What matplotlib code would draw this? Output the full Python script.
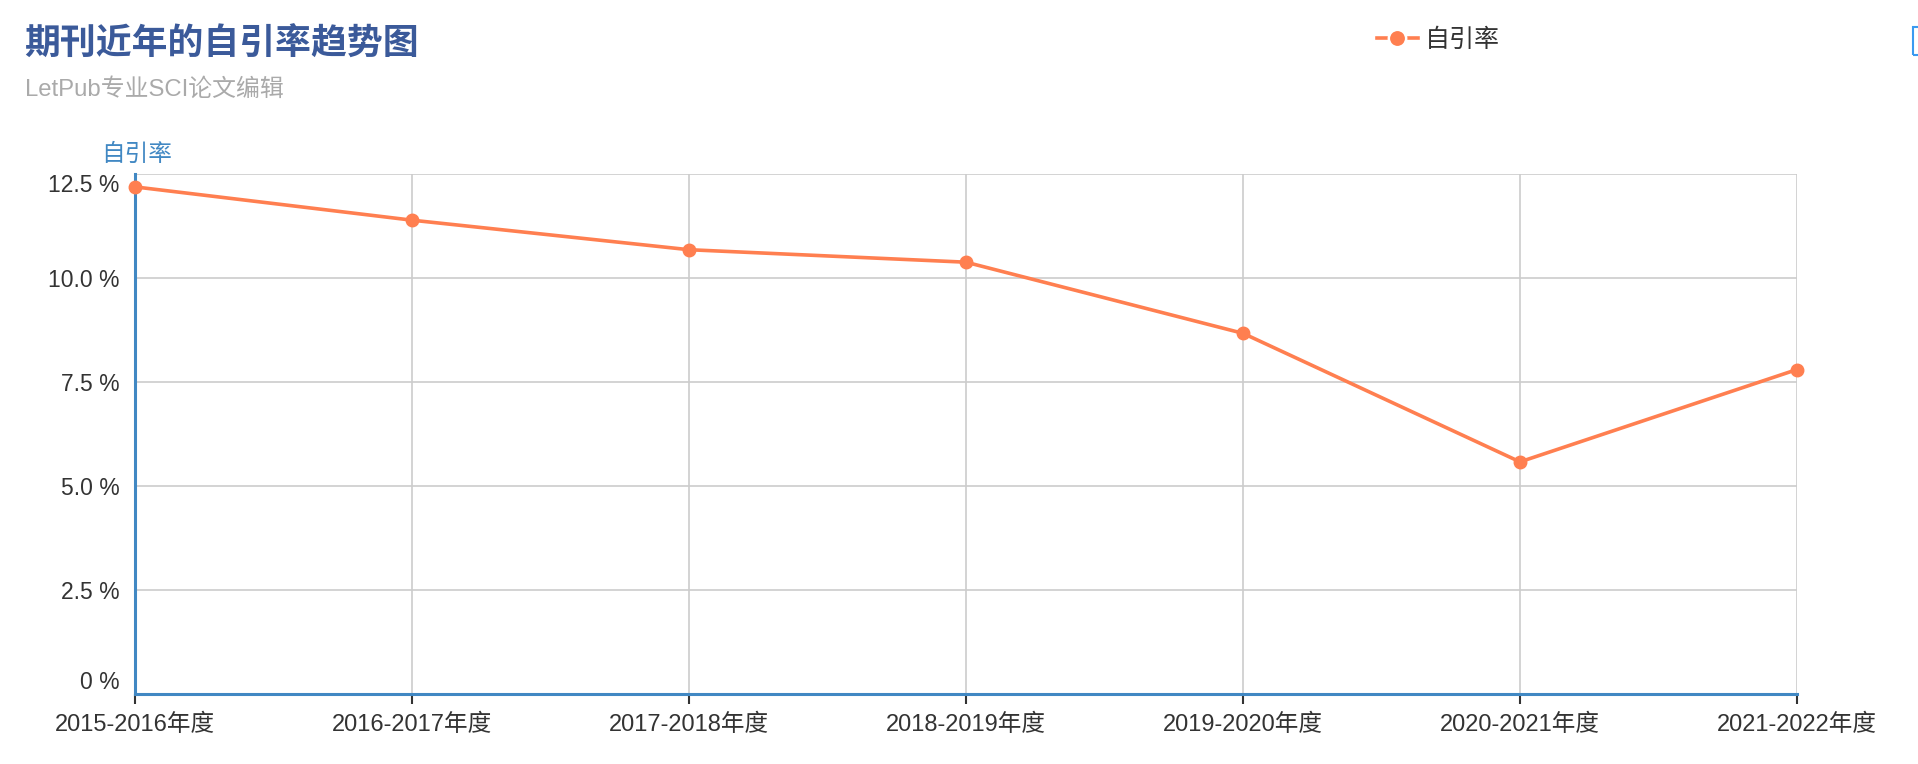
import matplotlib.pyplot as plt
from matplotlib.patches import Rectangle

plt.rcParams['font.family'] = ['Liberation Sans', 'Noto Sans CJK SC', 'DejaVu Sans']

# 数据
years = ['2015-2016年度', '2016-2017年度', '2017-2018年度', '2018-2019年度',
         '2019-2020年度', '2020-2021年度', '2021-2022年度']
self_cite = [12.19, 11.39, 10.68, 10.38, 8.67, 5.58, 7.80]
y_ticks = [0, 2.5, 5.0, 7.5, 10.0, 12.5]
y_labels = ['0 %', '2.5 %', '5.0 %', '7.5 %', '10.0 %', '12.5 %']

W, H = 1918, 764
fig = plt.figure(figsize=(W / 100, H / 100), dpi=100)
# 绘图区域（像素）
left, right, top, bottom = 135, 1797, 174, 694
ax = fig.add_axes([left / W, 1 - bottom / H, (right - left) / W, (bottom - top) / H])

orange = '#ff7f50'
blue = '#4188c3'

x = list(range(len(years)))
ax.plot(x, self_cite, color=orange, linewidth=2.6, marker='o', markersize=9,
        zorder=5, clip_on=False, label='自引率')

ax.set_xlim(0, len(years) - 1)
ax.set_ylim(0, 12.5)
ax.set_xticks(x)
ax.set_xticklabels(years, fontsize=17, color='#333333')
ax.set_yticks(y_ticks)
ax.set_yticklabels(y_labels, fontsize=16.5, color='#333333')
ax.tick_params(axis='x', length=7, width=1.5, color='#333333', pad=7.5)
ax.tick_params(axis='y', length=0, pad=11)

# 边缘标签向内移动
ylab = ax.get_yticklabels()
ylab[0].set_va('bottom')
ylab[-1].set_va('top')

ax.grid(True, color='#cccccc', linewidth=1.2)
ax.set_axisbelow(True)
for s in ['top', 'right']:
    ax.spines[s].set_visible(False)
for s in ['left', 'bottom']:
    ax.spines[s].set_color(blue)
    ax.spines[s].set_linewidth(2.2)
    ax.spines[s].set_zorder(4)

# y轴名称
fig.text(101 / W, 1 - 155 / H, '自引率', fontsize=17, color=blue, va='center', ha='left')

# 标题
fig.text(24 / W, 1 - 45 / H, '期刊近年的自引率趋势图', fontsize=25.8, fontweight='bold',
         color='#3b5a9a', va='center', ha='left')
fig.text(25 / W, 1 - 89 / H, 'LetPub专业SCI论文编辑', fontsize=17.2, color='#aaaaaa',
         va='center', ha='left')

# 图例
leg = ax.legend(loc='center left', bbox_to_anchor=(1364 / W, 1 - 40 / H),
                bbox_transform=fig.transFigure, frameon=False, fontsize=18,
                handlelength=1.65, handletextpad=0.3, borderpad=0)
for t in leg.get_texts():
    t.set_color('#333333')
for h in leg.legend_handles:
    h.set_markeredgecolor('white')
    h.set_markeredgewidth(1.8)
    h.set_markersize(12.5)

# 右上角工具箱图标残边
fig.patches.append(Rectangle((1913 / W, 1 - 55 / H), 10 / W, 28 / H,
                             transform=fig.transFigure, fill=False,
                             edgecolor='#3a9af0', linewidth=1.5))

fig.savefig('out.png', dpi=100)
